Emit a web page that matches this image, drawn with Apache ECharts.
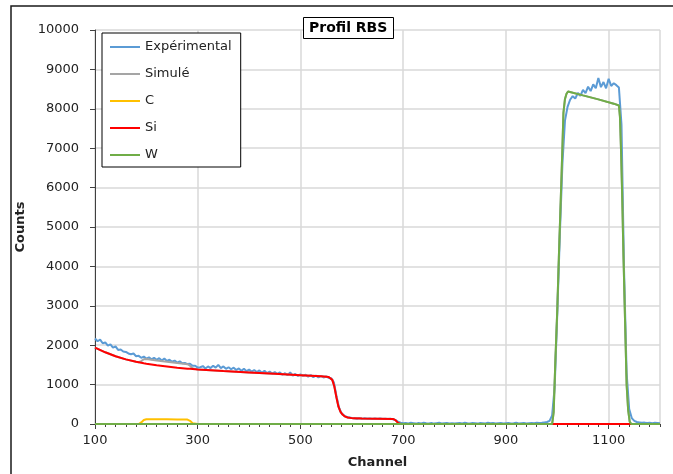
<!DOCTYPE html>
<html>
<head>
<meta charset="utf-8">
<script src="https://cdn.jsdelivr.net/npm/echarts@6/dist/echarts.min.js"></script>
<style>
html,body{margin:0;padding:0;background:#fff;}
#chart{width:673px;height:474px;}
</style>
</head>
<body>
<div id="chart"></div>
<script>
// ---------- DATA ----------
const expChannels = [
100,105,110,115,120,125,130,135,140,145,150,155,160,165,170,175,180,185,190,195,200,
205,210,215,220,225,230,235,240,245,250,255,260,265,270,275,280,285,290,295,300,
305,310,315,320,325,330,335,340,345,350,355,360,365,370,375,380,385,390,395,400,
405,410,415,420,425,430,435,440,445,450,455,460,465,470,475,480,485,490,495,500,
505,510,515,520,525,530,535,540,545,550,555,560,565,570,575,580,585,590,595,600,
605,610,615,620,625,630,635,640,645,650,655,660,665,670,675,680,685,690,695,700,
705,710,715,720,725,730,735,740,745,750,755,760,765,770,775,780,785,790,795,800,
805,810,815,820,825,830,835,840,845,850,855,860,865,870,875,880,885,890,895,900,
905,910,915,920,925,930,935,940,945,950,955,960,965,970,975,980,985,990,995,1000,
1005,1010,1015,1020,1025,1030,1035,1040,1045,1050,1055,1060,1065,1070,1075,1080,1085,1090,1095,1100,
1105,1110,1115,1120,1125,1130,1135,1140,1145,1150,1155,1160,1165,1170,1175,1180,1185,1190,1195,1200
];
const experimental = [
2170,2100,2140,2050,2070,1990,2020,1940,1970,1880,1890,1840,1830,1790,1770,1790,1720,1730,1680,1710,1660,
1690,1640,1680,1630,1670,1610,1660,1600,1630,1580,1610,1560,1590,1540,1550,1520,1530,1480,1480,1430,
1440,1470,1410,1460,1420,1480,1430,1500,1420,1460,1400,1440,1390,1430,1370,1410,1350,1400,1340,1380,
1330,1370,1320,1360,1300,1350,1290,1330,1280,1320,1270,1310,1250,1290,1240,1310,1230,1270,1220,1260,
1220,1250,1200,1240,1190,1230,1180,1220,1180,1210,1170,1160,1060,720,420,270,215,180,165,150,
145,135,150,130,145,135,140,125,140,130,140,125,135,130,135,120,100,60,35,20,
25,15,30,20,10,25,15,30,20,15,25,10,20,30,15,20,25,15,20,10,
20,25,15,30,20,15,25,20,10,25,20,15,30,20,25,15,20,25,15,20,
25,15,20,30,15,20,25,15,20,25,20,30,25,30,40,50,80,220,950,2800,
4800,6600,7700,8050,8230,8320,8260,8400,8330,8480,8400,8560,8450,8620,8520,8780,8550,8680,8520,8760,
8580,8650,8600,8540,7600,3900,1300,380,150,80,50,40,30,35,25,30,20,30,25,20
];

const modelChannels = [
100,120,140,160,180,185,190,195,200,220,240,260,280,285,290,293,300,350,400,450,
500,540,555,558,562,566,570,574,578,582,586,592,603,620,650,680,685,690,695,700,
800,900,990,993,996,1000,1003,1006,1009,1012,1015,1018,1021,1050,1080,1110,1120,1122,1124,1126,
1129,1132,1135,1138,1141,1144,1200
];
const simCarbon = [
0,0,0,0,0,0,40,100,120,119,118,116,112,80,20,0,0,0,0,0,
0,0,0,0,0,0,0,0,0,0,0,0,0,0,0,0,0,0,0,0,
0,0,0,0,0,0,0,0,0,0,0,0,0,0,0,0,0,0,0,0,
0,0,0,0,0,0,0
];
const simSilicon = [
1940,1820,1720,1640,1580,1568,1555,1542,1530,1490,1460,1430,1405,1400,1395,1392,1385,1345,1310,1275,
1240,1210,1192,1180,1120,950,680,440,310,240,195,165,143,138,135,130,100,30,0,0,
0,0,0,0,0,0,0,0,0,0,0,0,0,0,0,0,0,0,0,0,
0,0,0,0,0,0,0
];
const simTungsten = [
0,0,0,0,0,0,0,0,0,0,0,0,0,0,0,0,0,0,0,0,
0,0,0,0,0,0,0,0,0,0,0,0,0,0,0,0,0,0,0,0,
0,0,0,300,1500,2900,4200,5400,6600,7900,8250,8380,8440,8340,8240,8130,8085,7800,7000,6000,
4200,2600,1000,350,60,0,0
];
const simTotal = [
1940,1820,1720,1640,1580,1568,1595,1642,1650,1609,1578,1546,1517,1480,1415,1392,1385,1345,1310,1275,
1240,1210,1192,1180,1120,950,680,440,310,240,195,165,143,138,135,130,100,30,0,0,
0,0,0,300,1500,2900,4200,5400,6600,7900,8250,8380,8440,8340,8240,8130,8085,7800,7000,6000,
4200,2600,1000,350,60,0,0
];

const seriesNames = ['Expérimental','Simulé','C','Si','W'];
const seriesColors = ['#5B9BD5','#A5A5A5','#FFC000','#FF0000','#70AD47'];

// ---------- CHART ----------
function pairs(xs, ys){ return xs.map((x,i)=>[x, ys[i]]); }
const FONT = 'DejaVu Sans';
const plain = v => String(v);

const chart = echarts.init(document.getElementById('chart'), null, {renderer:'canvas'});
const mkLine = (idx, data, w) => ({
  name: seriesNames[idx], type:'line', data: data, showSymbol:false, symbol:'none',
  xAxisIndex:0, yAxisIndex:0,
  lineStyle:{color: seriesColors[idx], width: w}, itemStyle:{color: seriesColors[idx]},
  emphasis:{disabled:true}, animation:false
});

chart.setOption({
  animation:false,
  backgroundColor:'#ffffff',
  textStyle:{fontFamily:FONT},
  title:{
    text:'Profil RBS', left:303, top:17,
    borderColor:'#000', borderWidth:1, padding:[3,6,3,6],
    backgroundColor:'#fff',
    textStyle:{fontFamily:FONT, fontSize:14, fontWeight:'bold', color:'#000', lineHeight:16}
  },
  graphic:[{
    type:'rect', shape:{x:11, y:6, width:720, height:520},
    style:{fill:'none', stroke:'#1a1a1a', lineWidth:1.5}, silent:true, z:-1
  }],
  legend:{
    orient:'vertical', left:102, top:33,
    data: seriesNames,
    icon:'rect', itemWidth:30, itemHeight:2, itemGap:11, itemTextGap:3,
    padding:[6,9,4,8],
    borderColor:'#000', borderWidth:1, backgroundColor:'#fff',
    textStyle:{fontFamily:FONT, fontSize:13, color:'#222', lineHeight:16},
    z:10
  },
  grid:{left:95, right:13, top:30, bottom:49, containLabel:false},
  xAxis:[{
    type:'value', min:100, max:1200, interval:200, position:'bottom',
    name:'Channel', nameLocation:'middle', nameGap:32,
    nameTextStyle:{fontFamily:FONT, fontSize:13, fontWeight:'bold', color:'#222'},
    axisLine:{show:true, onZero:false, lineStyle:{color:'#404040', width:1}},
    axisTick:{show:true, length:5, lineStyle:{color:'#404040'}},
    axisLabel:{fontFamily:FONT, fontSize:13, color:'#222', margin:10, showMaxLabel:false, formatter:plain},
    splitLine:{show:true, lineStyle:{color:'#d9d9d9', width:1.5}}
  },{
    type:'value', min:100, max:1200, interval:20, position:'bottom',
    axisLine:{show:false, onZero:false},
    axisTick:{show:true, length:3, lineStyle:{color:'#404040'}},
    axisLabel:{show:false},
    splitLine:{show:false}
  }],
  yAxis:{
    type:'value', min:0, max:10000, interval:1000,
    name:'Counts', nameLocation:'middle', nameGap:52, nameRotate:90,
    nameTextStyle:{fontFamily:FONT, fontSize:13, fontWeight:'bold', color:'#222'},
    axisLine:{show:true, lineStyle:{color:'#404040', width:1}},
    axisTick:{show:true, length:5, lineStyle:{color:'#404040'}},
    axisLabel:{fontFamily:FONT, fontSize:13, color:'#222', margin:16, formatter:plain},
    splitLine:{show:true, lineStyle:{color:'#d9d9d9', width:1.5}}
  },
  series:[
    mkLine(0, pairs(expChannels, experimental), 2),
    mkLine(1, pairs(modelChannels, simTotal), 2),
    mkLine(2, pairs(modelChannels, simCarbon), 2),
    mkLine(3, pairs(modelChannels, simSilicon), 2),
    mkLine(4, pairs(modelChannels, simTungsten), 2)
  ]
});
</script>
</body>
</html>
